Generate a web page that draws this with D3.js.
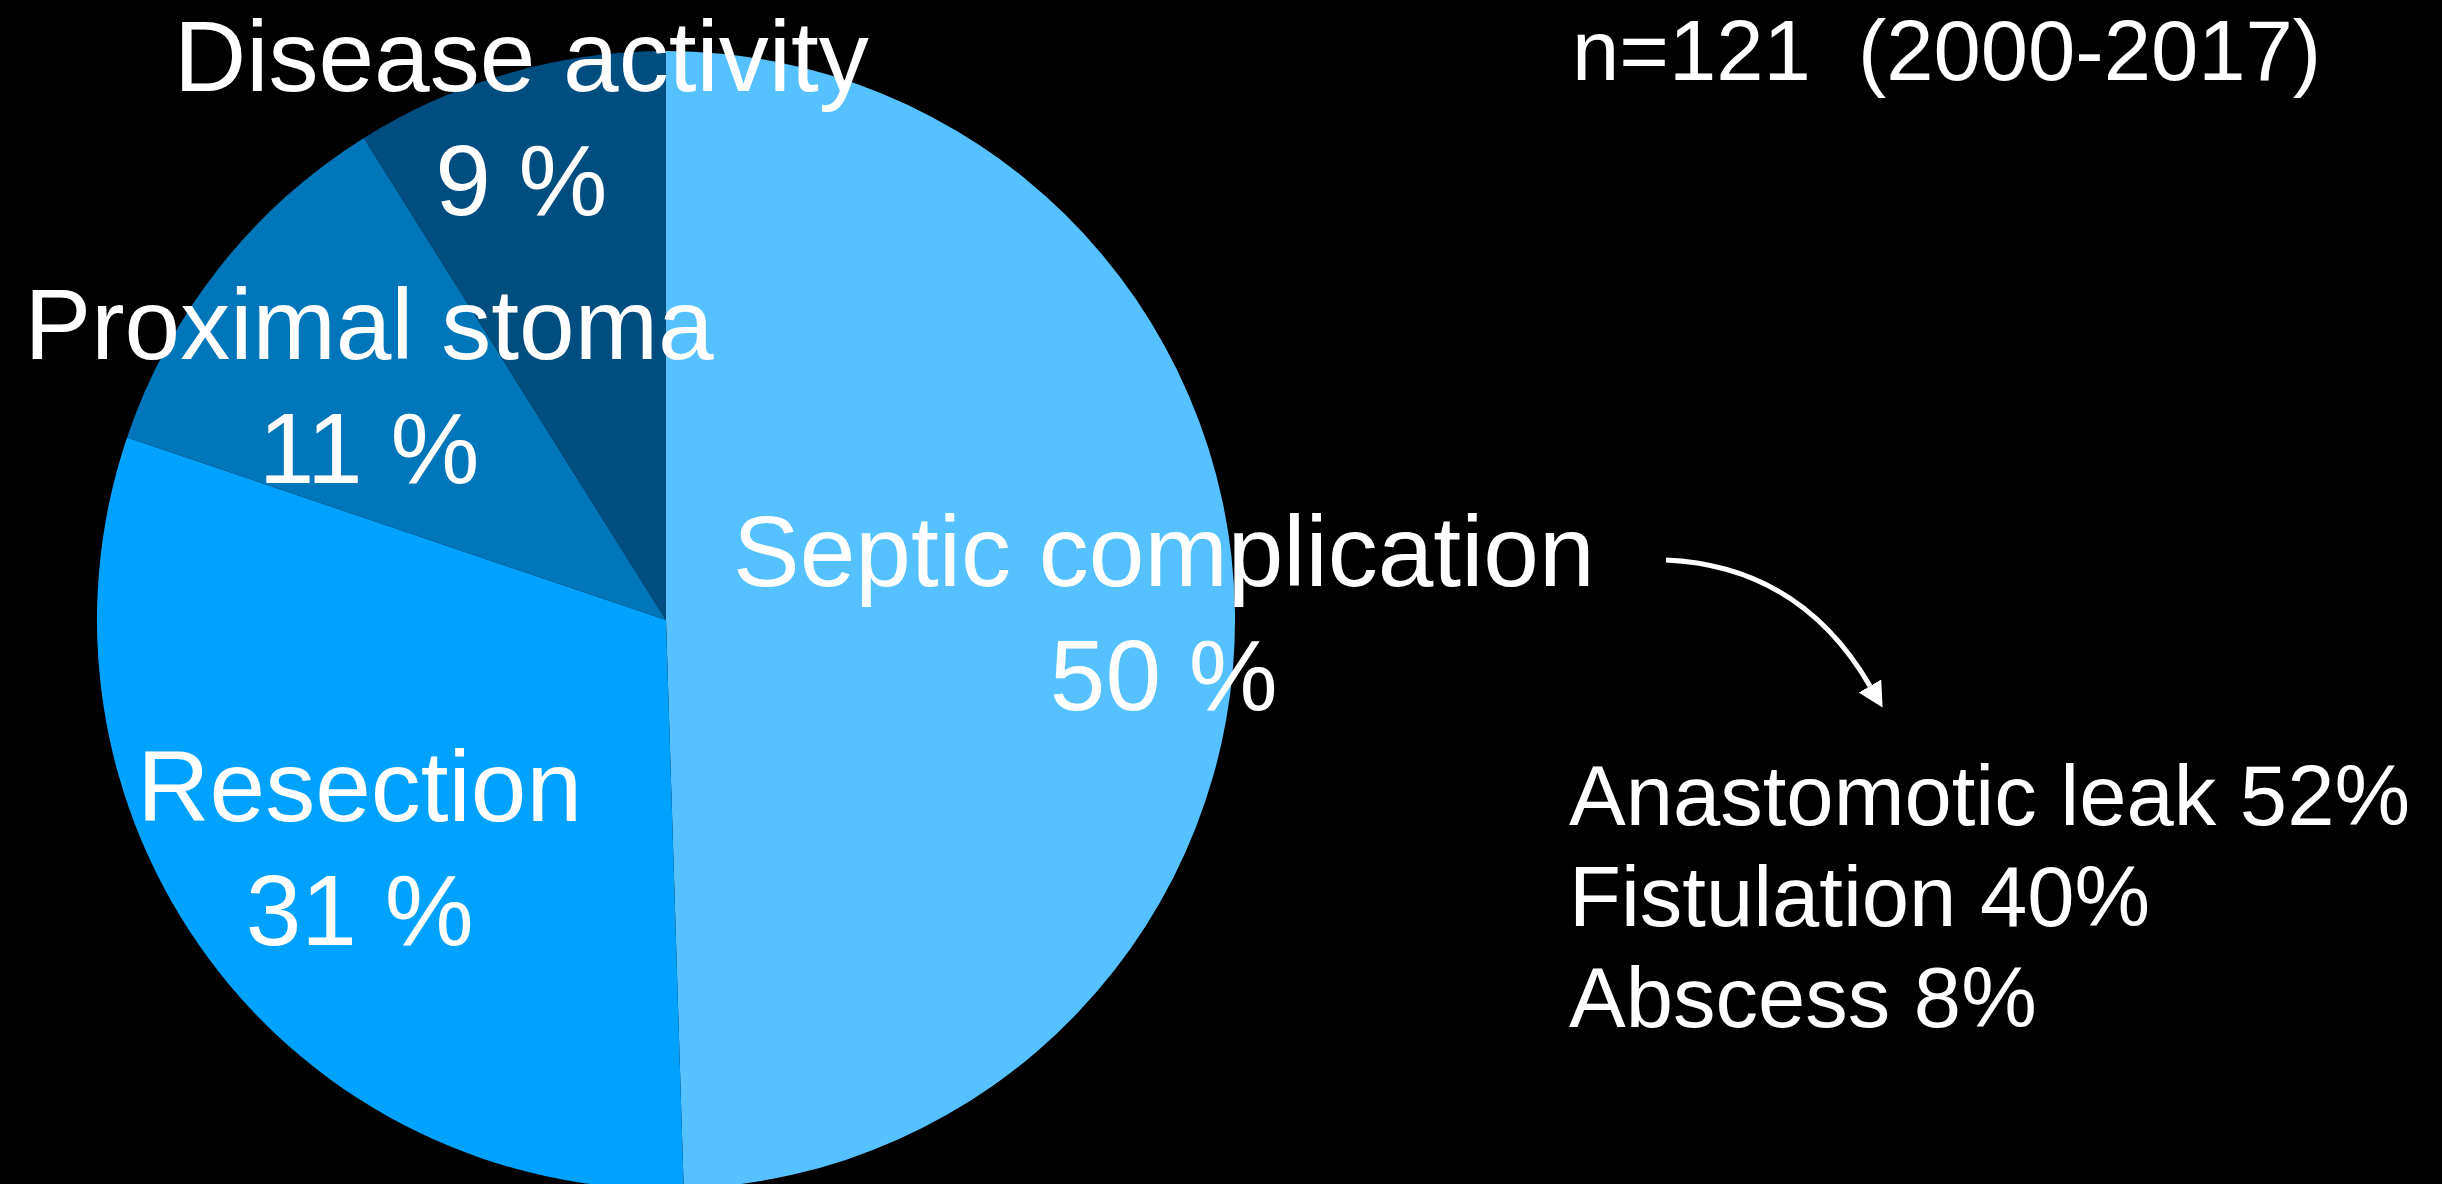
<!DOCTYPE html>
<html>
<head>
<meta charset="utf-8">
<script src="https://cdn.jsdelivr.net/npm/d3@7"></script>
<style>
  html, body { margin: 0; padding: 0; background: #000; overflow: hidden; }
  svg { display: block; }
  text { font-family: "Liberation Sans", Arial, Helvetica, sans-serif; fill: #fff; white-space: pre; }
</style>
</head>
<body>
<svg id="chart" width="2442" height="1184"></svg>
<script>
// Reasons for reoperation, share of cases
const categories = ["Septic complication", "Resection", "Proximal stoma", "Disease activity"];
const shares = [50, 31, 11, 9];
const sliceColors = ["#56C1FF", "#00A2FF", "#0076BA", "#004D80"];

// Breakdown of septic complications
const septicTypes = ["Anastomotic leak", "Fistulation", "Abscess"];
const septicShares = [52, 40, 8];

const cohortNote = "n=121  (2000-2017)";

// Layout
const W = 2442, H = 1184;
const cx = 666, cy = 620, R = 569;
const labelRadius = [0.875, 0.67, 0.665, 0.92];   // fraction of R for each slice label

const svg = d3.select("#chart");
svg.append("rect").attr("width", W).attr("height", H).attr("fill", "#000");

const data = categories.map((c, i) => ({ name: c, value: shares[i], color: sliceColors[i], lr: labelRadius[i] }));

const pie = d3.pie().sort(null).value(d => d.value);
const arc = d3.arc().innerRadius(0).outerRadius(R);
const arcs = pie(data);

const g = svg.append("g").attr("transform", `translate(${cx},${cy})`);

g.selectAll("path.slice")
  .data(arcs)
  .join("path")
  .attr("class", "slice")
  .attr("d", arc)
  .attr("fill", d => d.data.color);

// Slice labels: name on the first line, percentage below
const labels = g.selectAll("g.label")
  .data(arcs)
  .join("g")
  .attr("class", "label")
  .attr("transform", d => {
    const r = R * d.data.lr;
    const [x, y] = d3.arc().innerRadius(r).outerRadius(r).centroid(d);
    return `translate(${x},${y})`;
  });

labels.append("text")
  .attr("text-anchor", "middle")
  .attr("font-size", 100)
  .attr("y", -26)
  .text(d => d.data.name);

labels.append("text")
  .attr("text-anchor", "middle")
  .attr("font-size", 100)
  .attr("y", 98)
  .text(d => `${d.data.value} %`);

// Cohort note, top right
svg.append("text")
  .attr("x", 1572)
  .attr("y", 80)
  .attr("font-size", 85)
  .attr("xml:space", "preserve")
  .text(cohortNote);

// Curved arrow pointing to the septic breakdown
const defs = svg.append("defs");
defs.append("marker")
  .attr("id", "arrowhead")
  .attr("viewBox", "0 -13 25 26")
  .attr("refX", 0)
  .attr("refY", 0)
  .attr("markerWidth", 25)
  .attr("markerHeight", 26)
  .attr("markerUnits", "userSpaceOnUse")
  .attr("orient", "auto")
  .append("path")
  .attr("d", "M0,-13L25,0L0,13Z")
  .attr("fill", "#fff");

const arrowPath = d3.path();
arrowPath.moveTo(1666, 560);
arrowPath.quadraticCurveTo(1800, 566, 1870, 686);
svg.append("path")
  .attr("d", arrowPath.toString())
  .attr("fill", "none")
  .attr("stroke", "#fff")
  .attr("stroke-width", 5)
  .attr("marker-end", "url(#arrowhead)");

// Septic complication breakdown list
svg.append("g")
  .selectAll("text")
  .data(septicTypes.map((t, i) => ({ t, v: septicShares[i] })))
  .join("text")
  .attr("x", 1569)
  .attr("y", (d, i) => 825 + i * 101)
  .attr("font-size", 85)
  .text(d => `${d.t} ${d.v}%`);
</script>
</body>
</html>
